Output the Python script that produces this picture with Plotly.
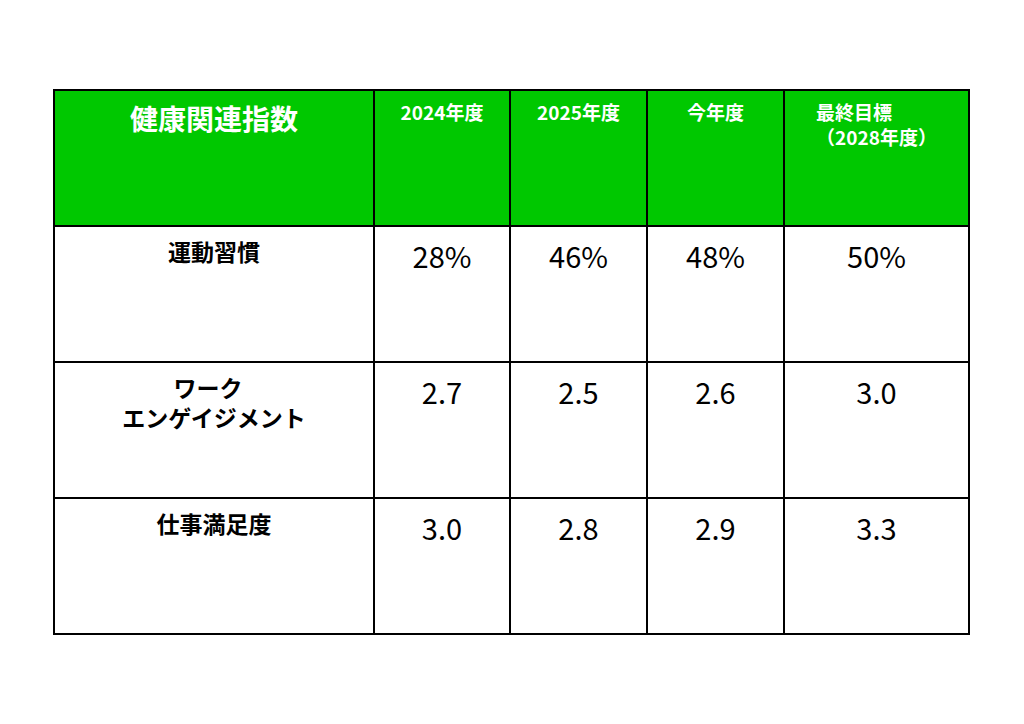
import plotly.graph_objects as go

# table contents
headers = ["健康関連指数", "2024年度", "2025年度", "今年度", "最終目標<br>（2028年度）"]
indicators = ["運動習慣", "\u3000\u3000 ワーク<br>エンゲイジメント", "仕事満足度"]
v2024 = ["28%", "2.7", "3.0"]
v2025 = ["46%", "2.5", "2.8"]
this_year = ["48%", "2.6", "2.9"]
target = ["50%", "3.0", "3.3"]

green = "#00C800"
W, H = 1024, 724
off = 8  # page body margin

# leading breaks push text towards the cell's vertical centre
head_pad = ["<br>", "<br><br>", "<br><br>", "<br><br>", "<br>"]
head_txt = [p + "<b>" + h + "</b>" for p, h in zip(head_pad, headers)]
first_col = ["<br><b>" + s + "</b>" for s in indicators]
vals = [["<br>" + v for v in col] for col in (v2024, v2025, this_year, target)]

fig = go.Figure(go.Table(
    columnwidth=[320, 136, 137, 137, 185],
    header=dict(
        values=head_txt,
        fill_color=green,
        line=dict(color="black", width=1.5),
        font=dict(family="Noto Sans CJK JP", color="white", size=[28, 19, 19, 19, 19]),
        align="center",
        height=136,
    ),
    cells=dict(
        values=[first_col] + vals,
        fill_color="white",
        line=dict(color="black", width=1.5),
        font=dict(family="Noto Sans CJK JP", color="black", size=[23, 29, 29, 29, 29]),
        align="center",
        height=136,
    ),
    domain=dict(x=[(54 - off) / W, (969 - off) / W], y=[0, 1 - (90 - off) / H]),
))

fig.update_layout(
    width=W, height=H,
    margin=dict(l=0, r=0, t=0, b=0),
    paper_bgcolor="white",
)

fig.write_html("out.html")
